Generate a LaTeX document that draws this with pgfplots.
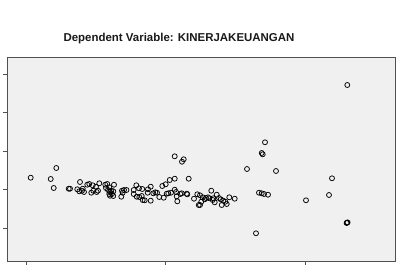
\documentclass[border=0pt]{standalone}
\usepackage{pgfplots}
\pgfplotsset{compat=1.18}
\usepackage{fontspec}
\setmainfont{Liberation Sans}
\definecolor{bgc}{HTML}{F0F0F0}
\definecolor{axc}{HTML}{505050}
\begin{document}
\begin{tikzpicture}
\begin{axis}[
  scale only axis,
  x=1bp, y=1bp,
  xmin=7, xmax=395, ymin=57, ymax=261,
  y dir=reverse,
  axis background/.style={fill=bgc},
  axis line style={axc, line width=0.9pt},
  xtick={26,165.7,305},
  ytick={74,112.3,151,189.7,228.3},
  xticklabels={}, yticklabels={},
  tick align=outside,
  xtick pos=bottom, ytick pos=left,
  major tick length=4bp,
  tick style={axc, line width=0.8pt},
  clip=false,
]
\addplot[only marks, mark=o, mark size=2.5bp, mark options={black, line width=0.75pt}] table {
x y
30.7 177.7
50.7 179
56.3 168
53.7 188
68.7 188.7
80 182
70 188.7
77.3 189.3
79.3 191.3
82 190.7
84 192
82.7 188.7
87.3 184.7
89.3 184
92.7 185.3
96 186.7
91.3 192.7
93.3 190.7
96.7 192
99.3 183.3
98 190.7
105.3 184.7
107.3 184
109.3 187.3
106 188
108 190
110 192
111.3 190.7
112 194
113.3 191.3
114 184.7
109.3 194
113.3 196
110 195.7
121.3 196.7
122 190.7
124 190
126.5 190
122.7 192.7
133.7 190
136.3 185.3
139 188.3
142.3 189
133.7 194
136.7 196.7
139.3 197
141.7 196
142.7 200
144.7 200.3
147.7 192.7
148 189.3
150.7 186.7
150.7 200.7
153.3 193.3
155.3 192.3
157 192.7
159.3 197
162.3 186
163.7 197.7
165.7 184.3
166.7 193.7
168.3 193.3
169.7 180
171 192.7
174.7 178.7
174.7 189.7
176 192
176.7 196.3
177.3 201.3
174.7 156.3
182 161.7
183.7 159.3
180.3 194
181.7 193.3
186.7 193.7
187.3 194.3
188.7 178.7
194 198.7
197.3 194.3
198.7 205
200 195.3
202.7 197.3
201.3 201.7
204.7 199.3
206 198
208 197.3
209.3 198.3
211.3 190.7
212.7 200
213.3 198.3
214.7 202.3
216.7 194.7
219 198
220.7 199.3
221.7 205
223.3 200.7
225.3 201.7
226.7 204
229.3 197.3
234.7 198.7
200 205
347.3 85
265 142.3
261.7 153
262.7 154.3
247 169
276 171
332 178.3
329 195
306 200.3
259 192.7
261.7 193.3
264 194
268 194.7
256 233.3
347 222.7
347.6 222.4
346.6 223
};
\node[font=\bfseries\fontsize{11.5}{13}\selectfont, text=black!90] at (axis cs:179,38.5) {Dependent Variable: KINERJAKEUANGAN};
\coordinate (A) at (axis cs:0,266);
\coordinate (B) at (axis cs:399,0);
\end{axis}
\pgfresetboundingbox
\useasboundingbox (A) rectangle (B);
\end{tikzpicture}
\end{document}
